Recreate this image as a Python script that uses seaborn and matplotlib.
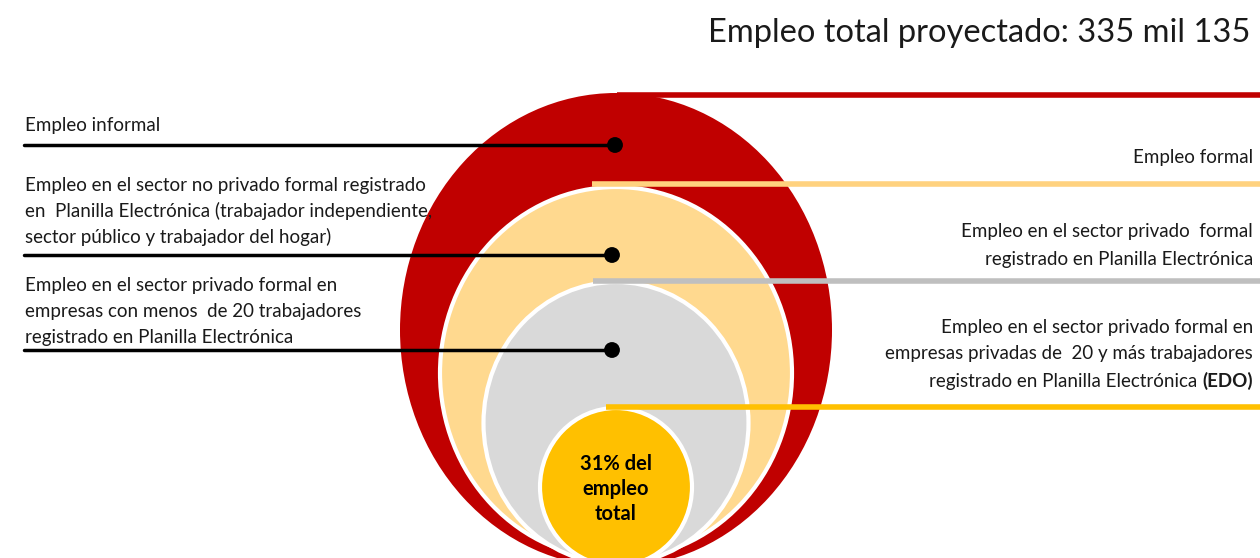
import matplotlib
matplotlib.use("Agg")
import matplotlib.pyplot as plt
from matplotlib.patches import Ellipse
import pandas as pd
import seaborn as sns

# Data
TITLE = "Empleo total proyectado: 335 mil 135"
SHARE_EDO = 31
LEFT_LABELS = [
    ["Empleo informal"],
    ["Empleo en el sector no privado formal registrado",
     "en  Planilla Electrónica (trabajador independiente,",
     "sector público y trabajador del hogar)"],
    ["Empleo en el sector privado formal en",
     "empresas con menos  de 20 trabajadores",
     "registrado en Planilla Electrónica"],
]
RIGHT_LABELS = [
    ["Empleo formal"],
    ["Empleo en el sector privado  formal",
     "registrado en Planilla Electrónica"],
    ["Empleo en el sector privado formal en",
     "empresas privadas de  20 y más trabajadores",
     "registrado en Planilla Electrónica "],
]
RIGHT_BOLD = "(EDO)"
LAYER_COLORS = ["#C00000", "#FFD98F", "#D9D9D9", "#FFC000"]
LINE_COLORS = ["#C00000", "#FFD27F", "#BFBFBF", "#FFC000"]

# Layout (pixel space)
W, H = 1260, 558
CX = 616
ELLIPSES = [  # (cy, width, height)
    (330, 432, 474),
    (373, 352, 372),
    (423, 265, 282),
    (487, 152, 158),
]
LEFT_Y = [145, 255, 350]
LEFT_TEXT_Y = [[125], [185, 211, 237], [285, 311, 337]]
RIGHT_LINE = [(617, 95), (592, 184), (593, 281), (606, 407)]
RIGHT_TEXT_Y = [[158], [232, 260], [327, 354, 381]]
FS = 13.5

sns.set_theme(style="white")
plt.rcParams["font.family"] = ["Lato", "DejaVu Sans"]

fig = plt.figure(figsize=(W / 100, H / 100), dpi=100)
ax = fig.add_axes([0, 0, 1, 1])

for i, (cy, w, h) in enumerate(ELLIPSES):
    ax.add_patch(Ellipse((CX, cy), w, h, facecolor=LAYER_COLORS[i],
                         edgecolor="white" if i else "none", lw=3, zorder=1 + i))

# right-hand connector lines
for (x0, y), c in zip(RIGHT_LINE, LINE_COLORS):
    ax.plot([x0, W], [y, y], color=c, lw=4, solid_capstyle="butt", zorder=10)

# left-hand black leaders with dots
dots = pd.DataFrame({"x": [CX - 1, CX - 4, CX - 4], "y": LEFT_Y})
for _, r in dots.iterrows():
    ax.plot([24, r["x"]], [r["y"], r["y"]], color="black", lw=2.5, zorder=11)
sns.scatterplot(data=dots, x="x", y="y", s=130, color="black",
                edgecolor="none", ax=ax, zorder=12, legend=False)
ax.set_xlim(0, W)
ax.set_ylim(H, 0)
ax.axis("off")

for lines, ys in zip(LEFT_LABELS, LEFT_TEXT_Y):
    for txt, y in zip(lines, ys):
        ax.text(25, y, txt, ha="left", va="center", fontsize=FS,
                color="#1a1a1a", zorder=13)

for k, (lines, ys) in enumerate(zip(RIGHT_LABELS, RIGHT_TEXT_Y)):
    for j, (txt, y) in enumerate(zip(lines, ys)):
        last = k == len(RIGHT_LABELS) - 1 and j == len(lines) - 1
        if last:
            b = ax.text(1253, y, RIGHT_BOLD, ha="right", va="center", fontsize=FS,
                        fontweight="bold", color="#1a1a1a", zorder=13)
            ax.annotate(txt, xy=(0, 0.5), xycoords=b, ha="right", va="center",
                        fontsize=FS, color="#1a1a1a", zorder=13)
        else:
            ax.text(1253, y, txt, ha="right", va="center", fontsize=FS,
                    color="#1a1a1a", zorder=13)

ax.text(1250, 33, TITLE, ha="right", va="center", fontsize=23.5, color="#1a1a1a")
ax.text(CX, 489, f"{SHARE_EDO}% del\nempleo\ntotal", ha="center", va="center",
        fontsize=14.5, fontweight="bold", linespacing=1.3, color="black", zorder=14)

fig.savefig("out.png", dpi=100)
